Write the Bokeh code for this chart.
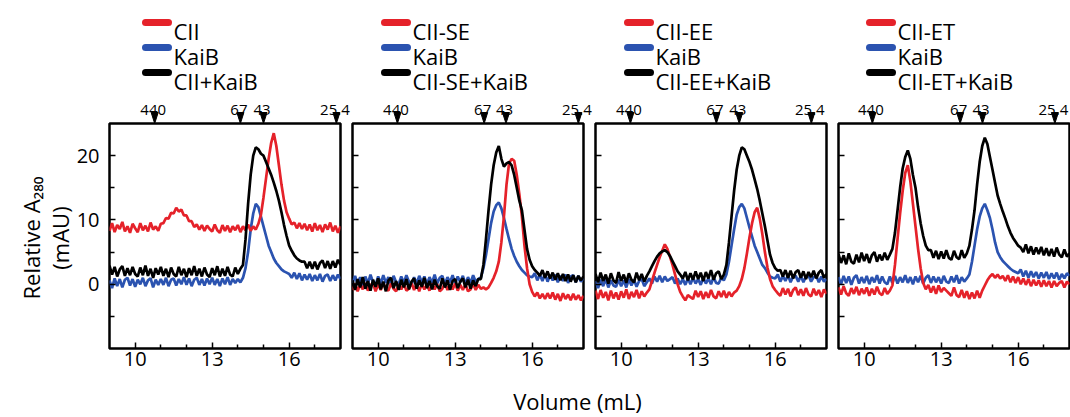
import math
from bokeh.plotting import figure
from bokeh.models import Range1d, FixedTicker
from bokeh.layouts import row, column
from bokeh.embed import file_html
from bokeh.resources import INLINE
from bokeh.core.properties import value

FONT = "Open Sans"
RED = "#E5222A"
BLUE = "#2B53B0"
BLACK = "#000000"

# ---------------- data ----------------
VOL_START, VOL_STEP, N_PTS = 9.0, 0.1, 91
volume = [round(VOL_START + VOL_STEP * i, 1) for i in range(N_PTS)]

samples = ["CII", "CII-SE", "CII-EE", "CII-ET"]
marker_labels = ["440", "67", "43", "25.4"]
marker_pos = [
    [10.76, 14.10, 15.00, 17.84],
    [10.75, 14.13, 14.98, 17.80],
    [10.36, 13.71, 14.60, 17.41],
    [10.32, 13.74, 14.61, 17.43],
]

# Panel 1: CII
p1_red = [8.3, 9.5, 8.1, 9.2, 8.6, 9.7, 8.2, 9.0, 8.0, 9.4,
          8.7, 8.1, 9.5, 8.4, 9.1, 8.2, 9.6, 8.5, 9.0, 8.3,
          9.4, 9.5, 10.3, 10.2, 11.1, 11.0, 11.9, 11.3, 11.6, 10.7,
          10.7, 9.8, 9.8, 8.9, 9.3, 8.5, 9.2, 8.3, 9.1, 8.6,
          8.2, 9.3, 8.4, 8.0, 9.2, 8.3, 9.1, 8.1, 9.0, 8.4,
          9.2, 8.1, 9.0, 8.4, 9.3, 8.3, 9.0, 8.5, 9.4, 10.8,
          13.5, 16.5, 19.5, 22.0, 23.5, 21.5, 18.5, 15.5, 13.0, 11.2,
          10.2, 9.3, 9.6, 8.7, 9.5, 8.6, 9.4, 8.4, 9.3, 8.2,
          9.5, 8.4, 9.2, 8.1, 9.3, 8.5, 9.6, 8.2, 9.1, 8.0, 9.0]
p1_blue = [0.6, -0.6, 0.9, -0.3, 0.8, -0.5, 0.7, 1.0, -0.2, 0.8,
           -0.4, 0.7, 0.0, 1.0, -0.3, 0.6, 0.9, -0.5, 0.7, -0.1,
           0.8, -0.1, 1.0, -0.3, 0.7, 0.9, -0.2, 0.8, 0.0, 1.1,
           -0.1, 0.9, -0.3, 0.7, 1.0, -0.1, 0.8, -0.2, 0.9, 0.0,
           1.0, -0.1, 0.8, -0.3, 0.9, 0.0, 1.1, -0.1, 0.8, 0.2,
           0.8, 0.3, 1.0, 2.5, 5.0, 8.5, 11.0, 12.5, 12.0, 10.5,
           9.0, 7.5, 6.0, 5.0, 4.0, 3.3, 2.8, 2.3, 2.0, 1.8,
           1.6, 1.0, 1.8, 0.8, 1.7, 0.6, 1.5, 0.7, 1.6, 0.5,
           1.4, 0.6, 1.6, 0.4, 1.3, 1.5, 0.5, 1.4, 0.6, 1.5, 0.8]
p1_black = [2.9, 1.5, 2.7, 1.2, 2.3, 2.8, 1.3, 2.5, 1.4, 2.7,
            1.6, 1.2, 2.6, 1.4, 2.9, 1.3, 2.4, 1.0, 2.5, 1.5,
            2.7, 1.3, 2.4, 1.1, 2.6, 1.6, 1.2, 2.7, 1.4, 2.4,
            1.1, 2.5, 1.4, 2.8, 1.3, 2.4, 1.2, 2.6, 1.5, 1.1,
            2.5, 1.4, 2.8, 1.2, 2.4, 1.3, 2.7, 1.5, 1.2, 2.6,
            1.6, 2.4, 3.0, 7.0, 12.5, 17.0, 20.0, 21.3, 21.0, 20.3,
            20.0, 19.0, 18.0, 17.0, 15.8, 14.5, 13.0, 11.2, 9.2, 7.5,
            6.0, 5.2, 4.5, 4.0, 3.7, 3.5, 3.5, 2.5, 3.5, 2.4,
            3.5, 2.3, 3.3, 3.7, 2.5, 3.6, 2.4, 3.6, 2.6, 3.8, 3.0]

# Panel 2: CII-SE
p2_red = [-0.9, 0.1, -1.1, 0.0, -0.8, 0.2, -1.0, -0.1, 0.1, -1.1,
          0.0, -0.9, 0.2, -0.8, -1.0, 0.1, -0.7, -1.1, 0.0, -0.8,
          0.1, -1.0, -0.7, 0.2, -0.9, 0.0, -1.1, 0.1, -0.8, -0.1,
          -1.0, 0.1, -0.8, 0.0, -1.1, -0.7, 0.2, -0.9, 0.0, -0.8,
          0.1, -1.0, -0.1, -0.9, 0.0, -1.1, -0.8, 0.1, -0.9, -0.1,
          -0.7, -0.5, -0.8, -0.5, 0.2, 1.0, 2.0, 3.5, 6.5, 10.5,
          15.5, 18.8, 19.5, 19.2, 17.0, 14.0, 10.5, 6.0, 2.5, 0.0,
          -1.2, -1.9, -1.3, -2.2, -1.5, -2.3, -1.4, -2.2, -1.3, -2.4,
          -1.5, -2.6, -1.4, -2.3, -1.6, -2.5, -1.5, -2.4, -1.7, -2.5, -1.8]
p2_blue = [0.2, 1.3, 0.0, 1.1, -0.2, 1.2, 0.1, 1.5, 0.3, -0.1,
           1.2, 0.1, 1.4, 0.2, 1.1, -0.1, 1.3, 0.3, 0.0, 1.2,
           0.2, 1.4, 0.4, -0.1, 1.1, 0.1, 1.3, 0.3, 1.2, 0.0,
           1.1, 0.2, 1.5, 0.1, 1.0, 1.3, 0.0, 1.1, 0.3, 1.4,
           0.1, 1.2, 0.3, 1.3, 0.0, 1.1, 0.2, 1.4, 0.4, 0.8,
           1.0, 2.5, 4.5, 7.0, 9.5, 11.3, 12.3, 12.7, 11.8, 10.3,
           8.6, 7.0, 5.5, 4.4, 3.5, 2.8, 2.2, 1.8, 1.4, 1.2,
           1.1, 1.7, 0.6, 1.5, 0.5, 1.6, 0.4, 1.4, 0.6, 1.5,
           0.3, 1.3, 0.5, 1.5, 0.2, 1.2, 1.4, 0.3, 1.3, 0.4, 0.9]
p2_black = [0.6, -0.9, 0.8, -0.5, 1.1, -0.7, 0.5, -1.0, 0.7, -0.4,
            0.9, -0.8, 0.4, -1.1, 0.6, 1.0, -0.6, 0.5, -0.9, 0.7,
            -0.5, 0.8, -0.8, 0.4, 0.9, -0.7, 0.6, -0.4, 1.0, -0.6,
            0.5, -0.8, 0.7, -0.3, -0.7, 0.9, -0.5, 0.6, -0.9, 0.5,
            0.8, -0.6, 0.4, 0.9, -0.5, 0.7, -0.7, 0.6, -0.3, 0.8,
            0.8, 3.0, 7.0, 11.5, 15.5, 18.5, 20.5, 21.5, 19.5, 18.3,
            18.8, 19.0, 18.5, 17.0, 15.0, 13.0, 11.5, 8.5, 5.5, 3.8,
            2.8, 2.2, 1.8, 1.3, 2.2, 1.0, 2.0, 0.9, 1.8, 0.7,
            1.7, 0.6, 1.6, 0.5, 1.5, 0.4, 1.4, 0.3, 1.3, 0.6, 1.2]

# Panel 3: CII-EE
p3_red = [-1.0, -2.3, -0.9, -2.1, -1.2, -2.5, -1.0, -2.2, -1.3, -2.4,
          -1.1, -2.1, -0.8, -2.3, -1.2, -2.0, -0.9, -2.2, -1.1, -1.9,
          -1.3, -0.8, 0.5, 1.8, 3.0, 4.2, 5.2, 6.2, 5.5, 4.3,
          3.0, 1.5, 0.0, -1.2, -1.9, -2.5, -1.7, -2.0, -2.3, -1.0,
          -2.0, -1.1, -2.3, -1.2, -2.1, -0.9, -1.9, -2.2, -1.1, -2.0,
          -1.0, -2.1, -1.2, -1.9, -1.3, -1.0, -0.3, 0.8, 2.5, 4.8,
          7.3, 9.5, 11.2, 11.9, 10.2, 7.8, 5.0, 2.6, 0.8, -0.3,
          -0.9, -1.4, -1.8, -0.6, -1.6, -0.7, -1.9, -0.9, -0.5, -1.7,
          -0.8, -1.8, -0.6, -1.6, -1.9, -0.7, -1.7, -0.9, -2.0, -0.8, -1.5]
p3_blue = [0.5, -0.6, 0.7, -0.3, 0.8, -0.5, 0.6, -0.2, -0.4, 0.7,
           -0.3, 0.6, -0.5, 0.8, -0.2, 0.7, -0.4, 0.5, 0.8, -0.3,
           0.3, 0.9, 0.1, 1.2, 0.4, 1.3, 0.3, 1.2, 0.5, 0.8,
           1.1, 0.1, 0.9, 0.0, 0.8, -0.1, 0.9, 0.0, 1.0, 0.1,
           0.8, -0.1, 1.0, 0.1, 0.9, 0.0, 1.1, 0.2, 0.1, 1.0,
           0.6, 1.5, 3.5, 6.0, 8.5, 10.8, 12.0, 12.5, 11.8, 10.3,
           8.8, 7.4, 6.0, 5.0, 4.0, 3.0, 2.5, 1.8, 1.2, 1.0,
           0.9, 1.5, 0.4, 1.3, 0.5, 1.4, 0.3, 1.2, 1.3, 0.4,
           1.3, 0.3, 1.2, 1.4, 0.4, 1.1, 1.3, 0.3, 1.2, 0.4, 0.8]
p3_black = [1.6, 0.3, 1.8, 0.5, 1.5, 0.1, 1.7, 0.6, 0.2, 1.9,
            0.5, 1.5, 0.2, 1.7, 0.7, 0.3, 1.8, 0.6, 1.6, 0.4,
            1.3, 2.0, 2.8, 3.6, 4.3, 4.8, 5.1, 5.3, 5.0, 4.4,
            3.6, 2.8, 2.0, 1.5, 0.9, 1.9, 0.6, 1.7, 0.7, 2.0,
            0.8, 1.8, 0.5, 1.9, 0.9, 2.2, 0.7, 1.7, 2.0, 0.8,
            1.5, 3.0, 6.5, 10.5, 14.5, 17.8, 20.0, 21.3, 21.0, 20.0,
            19.0, 17.8, 16.3, 14.8, 13.0, 11.0, 9.0, 6.8, 4.6, 3.3,
            2.5, 2.1, 2.2, 1.2, 2.2, 1.0, 2.1, 0.9, 1.9, 2.2,
            1.0, 2.0, 0.8, 1.9, 1.1, 2.1, 0.9, 1.8, 2.2, 1.0, 1.6]

# Panel 4: CII-ET
p4_red = [-0.5, -1.6, -0.3, -1.4, -1.8, -0.6, -1.5, -0.4, -1.7, -0.7,
          -1.5, -0.5, -1.8, -0.7, -1.6, -0.4, -1.4, -1.7, -0.6, -1.5,
          -1.0, -0.2, 3.0, 7.0, 11.0, 14.5, 17.3, 18.5, 16.0, 12.5,
          9.0, 5.5, 2.5, 0.2, -0.8, -0.1, -1.3, -0.3, -1.5, -0.2,
          -1.2, -0.6, -1.0, -1.4, -1.8, -0.5, -1.7, -2.0, -0.9, -2.1,
          -1.1, -2.3, -1.3, -2.2, -1.0, -2.1, -1.0, -0.2, 0.6, 1.2,
          1.6, 1.0, 1.5, 0.9, 1.3, 0.5, 1.4, 0.3, 1.2, 0.2,
          1.1, 0.0, 0.9, -0.1, 0.8, -0.3, 0.7, -0.2, 0.6, -0.4,
          0.6, -0.3, 0.5, -0.5, 0.5, -0.3, 0.2, 0.5, -0.5, 0.4, 0.0]
p4_blue = [1.1, 0.0, 1.3, 0.2, 1.2, -0.1, 1.0, 1.4, 0.1, 1.1,
           0.2, 1.3, 0.0, 1.1, 0.3, 1.4, 0.1, 1.2, 0.3, 0.0,
           1.2, 0.2, 1.3, 0.1, 1.1, 0.3, 1.4, 0.2, 1.1, 0.0,
           1.2, 0.3, 1.3, 0.1, 1.0, 1.4, 0.2, 1.2, 0.3, 1.1,
           0.1, 1.3, 0.4, 0.2, 1.2, 0.3, 1.4, 0.1, 1.1, 0.4,
           0.9, 1.5, 3.5, 6.0, 8.5, 10.5, 11.8, 12.5, 11.5, 10.3,
           8.5, 6.5, 5.0, 4.2, 3.6, 3.2, 2.8, 2.4, 2.1, 1.9,
           1.7, 2.3, 1.2, 2.1, 1.0, 2.0, 1.1, 1.9, 0.9, 1.8,
           1.0, 1.9, 0.8, 1.7, 0.9, 1.8, 0.7, 1.6, 0.9, 1.7, 1.3]
p4_black = [4.7, 3.3, 4.5, 3.1, 4.8, 3.5, 3.2, 4.6, 3.4, 4.9,
            3.6, 4.7, 3.3, 4.5, 5.0, 3.5, 4.6, 3.7, 4.9, 3.8,
            4.6, 5.5, 8.0, 11.5, 15.0, 18.0, 19.8, 20.8, 19.5, 17.0,
            15.0, 12.0, 9.5, 7.5, 6.0, 5.3, 5.3, 4.1, 5.2, 3.9,
            5.1, 4.0, 5.3, 4.1, 3.8, 5.2, 4.2, 3.9, 5.3, 4.1,
            4.8, 6.0, 8.5, 11.5, 15.5, 19.0, 21.5, 22.8, 21.8, 19.8,
            17.8, 15.8, 13.8, 12.5, 11.3, 10.2, 9.0, 8.0, 7.2, 6.6,
            6.0, 5.7, 5.0, 6.2, 4.8, 5.9, 4.6, 5.7, 4.7, 5.8,
            4.5, 5.6, 4.4, 5.5, 4.3, 5.7, 4.6, 4.2, 5.4, 4.3, 4.8]

reds = [p1_red, p2_red, p3_red, p4_red]
blues = [p1_blue, p2_blue, p3_blue, p4_blue]
blacks = [p1_black, p2_black, p3_black, p4_black]

# ---------------- layout constants ----------------
X_MIN, X_MAX = 9, 18
Y_MIN, Y_MAX = -10, 25
FRAME_W, FRAME_H = 231, 225
TOP, BOTTOM = 123, 34
BORDERS = [(109, 11), (1, 11), (1, 11), (1, 1)]
LEG_X = [36, 32, 32, 31]          # px from frame left to swatch start
LEG_ROWS = [101, 76, 51]          # px above frame top of each legend row centre
SW_LEN, SW_W, LEG_GAP = 23, 7, 5
LEG_FS = 22
TRI_HW, TRI_H = 3.5, 11
LINE_W = 2.7


def make_panel(k):
    bl, br = BORDERS[k]
    p = figure(width=bl + FRAME_W + br, height=TOP + FRAME_H + BOTTOM,
               x_range=Range1d(X_MIN, X_MAX), y_range=Range1d(Y_MIN, Y_MAX),
               output_backend="svg", toolbar_location=None,
               min_border_left=bl, min_border_right=br,
               min_border_top=TOP, min_border_bottom=BOTTOM)
    p.grid.visible = False
    p.outline_line_color = "black"
    p.outline_line_width = 2.5
    p.outline_line_alpha = 1.0

    xa = p.xaxis[0]
    xa.ticker = FixedTicker(ticks=[10, 13, 16], minor_ticks=[11, 12, 14, 15, 17])
    xa.axis_line_color = None
    xa.major_tick_in, xa.major_tick_out = 6, 0
    xa.minor_tick_in, xa.minor_tick_out = 4, 0
    xa.major_tick_line_width = 1.5
    xa.minor_tick_line_width = 1.5
    xa.major_label_text_font = FONT
    xa.major_label_text_font_size = "20px"
    xa.major_label_text_color = "black"
    xa.major_label_standoff = 3

    ya = p.yaxis[0]
    ya.axis_line_color = None
    ya.major_tick_in, ya.major_tick_out = 6, 0
    ya.minor_tick_in, ya.minor_tick_out = 5, 0
    ya.major_tick_line_width = 1.5
    ya.minor_tick_line_width = 1.5
    if k == 0:
        ya.ticker = FixedTicker(ticks=[0, 10, 20], minor_ticks=[-5, 5, 15])
        ya.major_label_text_font = FONT
        ya.major_label_text_font_size = "20px"
        ya.major_label_text_color = "black"
        ya.major_label_standoff = 10
    else:
        ya.ticker = FixedTicker(ticks=[], minor_ticks=[-5, 0, 5, 10, 15, 20])
        ya.minor_tick_in = 6
        ya.major_label_standoff = 0

    # traces
    p.line(volume, blues[k], color=BLUE, line_width=LINE_W)
    p.line(volume, reds[k], color=RED, line_width=LINE_W)
    p.line(volume, blacks[k], color=BLACK, line_width=LINE_W)

    px_x = FRAME_W / (X_MAX - X_MIN)
    px_y = FRAME_H / (Y_MAX - Y_MIN)

    # molecular-weight markers above the frame
    xs = [[m - TRI_HW / px_x, m + TRI_HW / px_x, m] for m in marker_pos[k]]
    ys = [[Y_MAX + TRI_H / px_y, Y_MAX + TRI_H / px_y, Y_MAX] for m in marker_pos[k]]
    p.patches(xs, ys, color="black", level="overlay")
    p.text(x=marker_pos[k], y=[Y_MAX] * len(marker_pos[k]), text=marker_labels,
           x_offset=-1.5, y_offset=-14, text_align="center", text_baseline="alphabetic",
           text_font=value(FONT), text_font_size=value("15px"), text_color="black",
           level="overlay")

    # legend (drawn above the frame)
    names = [samples[k], "KaiB", samples[k] + "+KaiB"]
    cols = [RED, BLUE, BLACK]
    x0 = X_MIN + LEG_X[k] / px_x
    x1 = X_MIN + (LEG_X[k] + SW_LEN) / px_x
    xt = X_MIN + (LEG_X[k] + SW_LEN + LEG_GAP) / px_x
    yrow = [Y_MAX + d / px_y for d in LEG_ROWS]
    p.segment(x0=[x0] * 3, y0=yrow, x1=[x1] * 3, y1=yrow, color=cols,
              line_width=SW_W, line_cap="round", level="overlay")
    p.text(x=[xt] * 3, y=yrow, text=names, y_offset=round(LEG_FS * 0.36),
           text_align="left", text_baseline="alphabetic", text_font=value(FONT),
           text_font_size=value(f"{LEG_FS}px"), text_color="black", level="overlay")

    if k == 0:
        ymid = (Y_MIN + Y_MAX) / 2
        p.text(x=[X_MIN], y=[ymid], text=["Relative A\u2082\u2088\u2080"], angle=math.pi / 2,
               x_offset=-79, y_offset=2, text_align="center", text_baseline="alphabetic",
               text_font=value(FONT), text_font_size=value("22px"), text_color="black",
               level="overlay")
        p.text(x=[X_MIN], y=[ymid], text=["(mAU)"], angle=math.pi / 2,
               x_offset=-50, y_offset=2, text_align="center", text_baseline="alphabetic",
               text_font=value(FONT), text_font_size=value("22px"), text_color="black",
               level="overlay")
    return p


panels = [make_panel(k) for k in range(4)]
total_w = sum(b[0] + FRAME_W + b[1] for b in BORDERS)

VOL_H = 35
pb = figure(width=total_w, height=VOL_H, x_range=Range1d(0, total_w), y_range=Range1d(0, VOL_H),
            output_backend="svg", toolbar_location=None, min_border=0,
            x_axis_type=None, y_axis_type=None)
pb.grid.visible = False
pb.outline_line_color = None
pb.text(x=[577], y=[17], text=["Volume (mL)"], text_align="center", text_baseline="alphabetic",
        text_font=value(FONT), text_font_size=value("22px"), text_color="black",
        level="overlay")

layout = column(row(*panels, spacing=0), pb, spacing=0)
open("out.html", "w").write(file_html(layout, INLINE))
